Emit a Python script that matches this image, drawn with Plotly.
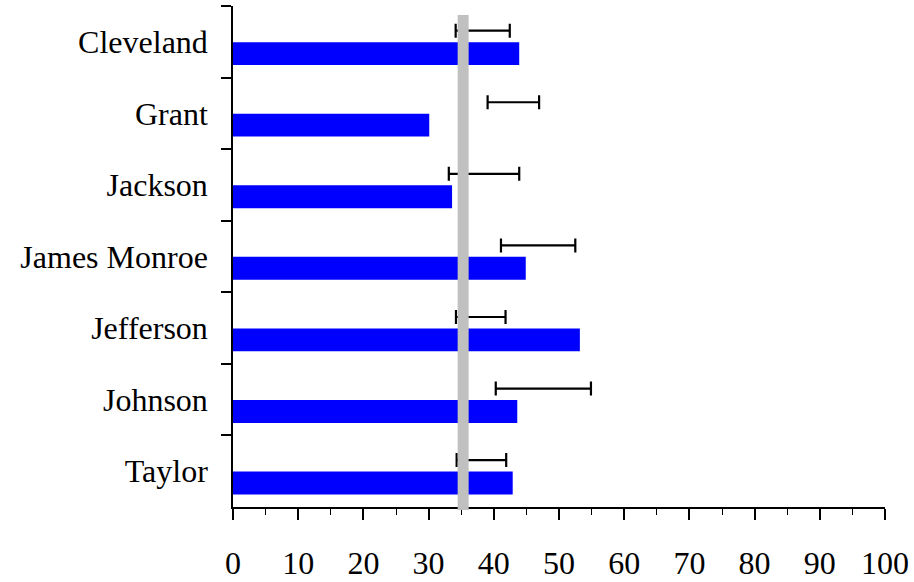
import plotly.graph_objects as go

categories = ["Cleveland", "Grant", "Jackson", "James Monroe", "Jefferson", "Johnson", "Taylor"]
bar_values = [43.9, 30.1, 33.6, 44.9, 53.2, 43.6, 42.9]
err_center = [38.3, 43.0, 38.5, 46.8, 38.0, 47.6, 38.1]
err_half = [4.15, 3.95, 5.4, 5.7, 3.8, 7.3, 3.8]
ref_value = 35.3
x_ticks = list(range(0, 101, 10))

FONT = "Liberation Serif"

fig = go.Figure()
# invisible series carrying the error bars (upper slot of each band)
fig.add_trace(go.Bar(
    y=categories, x=err_center, orientation="h",
    marker=dict(color="rgba(0,0,0,0)", line=dict(width=0)),
    offset=-0.315, width=0.32,
    error_x=dict(type="data", array=err_half, visible=True,
                 color="black", thickness=2.2, width=7),
    showlegend=False, hoverinfo="skip",
))
# blue bars (lower slot)
fig.add_trace(go.Bar(
    y=categories, x=bar_values, orientation="h",
    marker=dict(color="#0000FF", line=dict(width=0)),
    offset=0.005, width=0.32,
    showlegend=False,
))

fig.add_shape(type="line", xref="x", yref="paper",
              x0=ref_value, x1=ref_value, y0=-0.006, y1=0.982,
              line=dict(color="#C0C0C0", width=11), layer="above")

fig.update_layout(
    width=914, height=582,
    margin=dict(l=233, r=29, t=6, b=75),
    paper_bgcolor="white", plot_bgcolor="white",
    barmode="overlay",
    font=dict(family=FONT, size=32, color="black"),
    xaxis=dict(
        range=[0, 100], tickvals=x_ticks, ticktext=[str(v) for v in x_ticks],
        showline=True, linecolor="black", linewidth=1.5,
        ticks="outside", ticklen=11, tickwidth=1.5, tickcolor="black",
        minor=dict(dtick=5, tick0=0, ticks="outside", ticklen=6, tickwidth=1, tickcolor="black"),
        showgrid=False, zeroline=False, automargin=False,
        ticklabelstandoff=16,
        tickfont=dict(family=FONT, size=32, color="black"),
    ),
    yaxis=dict(
        type="category", categoryorder="array", categoryarray=categories,
        range=[6.5, -0.5],
        showline=True, linecolor="black", linewidth=1.5,
        ticks="outside", ticklen=10, tickwidth=1.5, tickcolor="black",
        tickson="boundaries",
        showgrid=False, zeroline=False, automargin=False,
        ticklabelstandoff=17,
        tickfont=dict(family=FONT, size=32, color="black"),
    ),
)

fig.write_html("out.html", config={"displayModeBar": False},
               post_script="document.body.style.margin='0px';document.body.style.overflow='hidden';")
